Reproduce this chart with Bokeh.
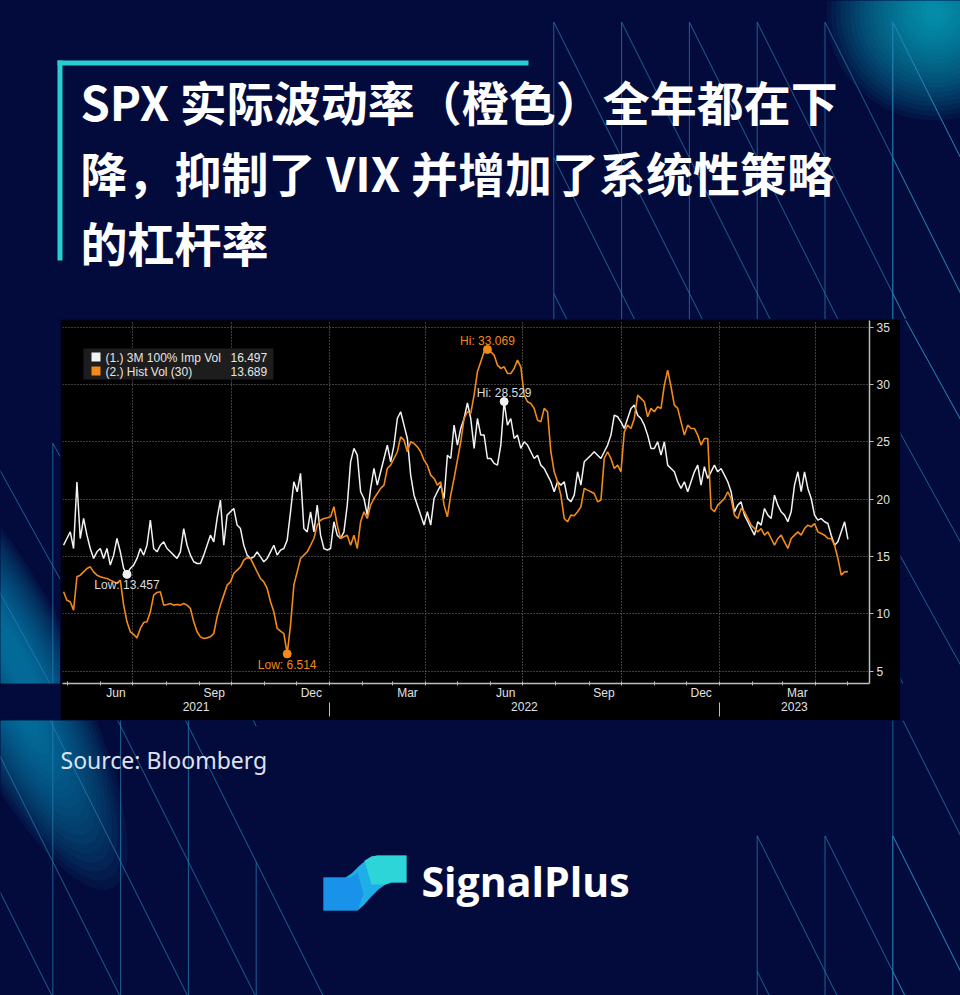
import pandas as pd
from bokeh.plotting import figure
from bokeh.layouts import column, row
from bokeh.models import (Range1d, FixedTicker, DatetimeAxis, DatetimeTickFormatter,
                          Label, BoxAnnotation)
from bokeh.embed import file_html
from bokeh.resources import INLINE
from bokeh.core.properties import value

# ---------------- data ----------------
title_lines = ["SPX 实际波动率（橙色）全年都在下",
               "降，抑制了 VIX 并增加了系统性策略",
               "的杠杆率"]
source_text = "Source: Bloomberg"
brand = "SignalPlus"
series_names = ["(1.) 3M 100% Imp Vol", "(2.) Hist Vol (30)"]

start_date = "2021-04-27"
sample_step = "75h"

imp_vol = [
    16.0, 16.58, 17.16, 15.71, 21.5, 16.58, 18.33, 16.87, 15.71, 14.84,
    15.42, 15.71, 14.84, 15.71, 14.26, 15.13, 16.58, 15.42, 13.97, 13.457,
    13.97, 14.26, 14.84, 15.71, 15.13, 15.99, 18.18, 15.71, 15.42, 15.99,
    16.29, 15.71, 15.42, 15.13, 14.84, 15.42, 17.45, 15.99, 15.13, 14.55,
    14.40, 14.40, 15.13, 15.99, 16.87, 16.29, 18.33, 19.93, 15.99, 18.62,
    18.91, 19.2, 17.75, 17.45, 15.99, 15.13,
    14.84, 14.98, 15.42, 14.98, 14.55, 14.84, 15.42, 15.99, 15.13, 15.57,
    15.71, 16.44, 18.91, 21.53, 20.66, 22.26, 17.45, 17.16, 18.91, 17.16,
    19.49, 16.87, 15.71, 15.57, 15.71, 18.04, 16.87, 16.58, 17.16, 19.49,
    23.27, 24.44, 23.85, 20.66, 20.07, 18.62, 20.95, 22.69, 21.24, 22.4,
    23.56, 24.73, 23.27, 24.73, 27.05, 27.64, 26.47, 25.31, 22.11, 20.36,
    19.49, 18.62, 17.75, 18.91, 17.75, 20.07, 20.66,
    21.24, 20.07, 23.85, 23.56, 26.47, 24.73, 26.18, 27.05, 28.4, 27.05,
    24.44, 27.05, 25.6, 25.6, 23.56, 23.56, 23.13, 22.98, 24.73, 28.529,
    26.47, 27.05, 25.31, 25.6, 24.44, 25.02, 24.73, 24.15, 23.56, 23.85,
    22.98, 22.69, 22.11, 21.53, 20.66, 21.53, 21.24, 21.53, 20.07, 19.78,
    20.36, 22.4, 21.24, 23.27, 23.56, 23.85, 24.15, 23.85, 23.56, 24.15,
    24.73, 25.6, 27.34, 27.2, 26.76, 26.18, 27.05,
    27.93, 28.22, 27.34, 27.05, 26.47, 25.6, 24.44, 24.44, 25.02, 23.85,
    25.02, 22.98, 22.69, 22.4, 21.53, 20.95, 21.53, 20.66, 21.53, 22.4,
    22.98, 21.24, 22.84, 21.82, 22.4, 22.98, 22.4, 22.69, 22.11, 21.53,
    20.66, 18.91, 19.49, 19.78, 18.62, 18.04, 17.45, 16.87, 18.04, 17.75,
    19.2, 18.62, 18.33, 20.36, 19.49, 18.91, 18.62, 18.04, 18.91, 21.24,
    22.4, 20.66, 22.4, 20.95, 20.07, 18.62, 18.18, 18.33, 18.04, 17.89,
    16.87, 15.99, 16.29, 17.16, 18.04, 16.497,
]

hist_vol = [
    11.93, 11.2, 11.06, 10.33, 13.24, 13.38, 13.67, 13.96, 14.11, 13.67,
    13.38, 13.24, 13.15, 13.09, 12.95, 12.8, 12.66, 12.95, 10.77, 9.31,
    8.44, 8.21, 7.91, 8.73, 9.25, 9.31, 10.18, 11.64, 11.87, 11.93,
    10.77, 10.82, 10.91, 10.77, 10.82, 10.77, 10.91, 10.77, 10.47, 9.31,
    8.44, 8.0, 7.86, 7.91, 8.0, 8.29, 9.75, 10.77, 11.64, 12.51,
    12.8, 13.53, 13.82, 14.11, 14.69, 14.9,
    14.84, 14.26, 13.67, 13.09, 12.8, 12.22, 11.06, 10.18, 8.73, 8.5,
    8.29, 6.514, 9.02, 12.51, 13.67, 14.84, 15.13, 15.42, 15.99, 16.58,
    17.75, 18.18, 18.33, 18.39, 18.47, 19.35, 17.75, 16.58, 16.73, 16.87,
    15.99, 16.87, 15.71, 18.04, 18.91, 18.33, 19.49, 20.07, 20.51, 20.95,
    21.24, 22.69, 22.98, 23.56, 24.15, 25.45, 25.16, 24.15, 25.02, 24.87,
    24.58, 24.15, 23.42, 22.98, 22.11, 21.82, 21.24,
    21.53, 19.49, 18.47, 20.36, 21.82, 23.42, 25.02, 27.05, 27.64, 27.49,
    29.09, 31.13, 32.0, 32.87, 33.069, 32.87, 32.58, 31.71, 31.42, 31.56,
    30.98, 30.98, 31.42, 32.14, 31.56, 29.09, 28.51, 28.36, 27.93, 26.91,
    26.76, 27.93, 27.64, 24.15, 22.4, 21.53, 20.36, 18.33, 18.04, 18.62,
    18.56, 18.91, 19.35, 20.95, 20.8, 20.66, 20.51, 19.78, 19.93, 23.56,
    24.15, 23.56, 22.69, 22.98, 22.4, 25.89, 26.47,
    26.18, 27.05, 29.09, 28.8, 28.51, 27.2, 27.93, 27.64, 28.07, 27.93,
    29.96, 31.27, 29.82, 28.22, 27.93, 26.76, 25.6, 26.47, 26.18, 26.18,
    25.6, 24.73, 25.31, 25.31, 19.2, 18.91, 19.49, 19.78, 20.07, 20.66,
    20.07, 18.62, 18.33, 19.2, 18.91, 18.33, 17.75, 17.45, 17.16, 17.45,
    16.87, 17.16, 16.58, 16.0, 16.58, 16.87, 16.29, 15.71, 16.58, 16.87,
    17.16, 16.87, 17.45, 17.75, 17.6, 17.89, 17.16, 17.02, 16.87, 16.58,
    16.58, 16.0, 14.84, 13.38, 13.67, 13.689,
]

y_ticks = [5, 10, 15, 20, 25, 30, 35]
month_label_dates = ["2021-06-15", "2021-09-15", "2021-12-15", "2022-03-15",
                     "2022-06-15", "2022-09-15", "2022-12-15", "2023-03-15"]
view_start = "2021-04-26 00:00"
view_end = "2023-05-21 14:00"
y_min, y_max = 3.93, 35.6

# ---------------- styling ----------------
NAVY = "#030b3d"
WHITE_LINE = "#f2f2f2"
ORANGE = "#f28a1a"
CYAN = "#27cfd3"
LATTICE = "#2a84b8"


def ms(d):
    return pd.Timestamp(d).value // 10**6


dates = pd.date_range(start_date, periods=len(imp_vol), freq=sample_step)


def deco_fig(w, h, xr, yr):
    f = figure(width=w, height=h, x_range=Range1d(*xr), y_range=Range1d(*yr),
               output_backend="svg", toolbar_location=None,
               x_axis_location=None, y_axis_location=None,
               min_border=0, background_fill_color=NAVY, border_fill_color=NAVY)
    f.outline_line_color = None
    f.grid.visible = False
    return f


def lattice(x0, y0, dx, dy, cells):
    xs, ys = [], []
    for i, j in cells:
        xa, ya = x0 + i * dx, y0 + j * dy
        xs.append([xa, xa + dx]); ys.append([ya, ya + dy])
        xs.append([xa, xa]); ys.append([ya, ya + dy])
    return xs, ys


right_cells = [(i, j) for i in range(0, 7) for j in range(0, 3)]
right_cells += [(i, j) for i in (5, 6) for j in range(0, 8)]
right_cells += [(i, j) for i in range(3, 7) for j in (6, 7)]
left_cells = [(-1, j) for j in range(0, 5)] + [(0, j) for j in range(0, 5)]
left_cells += [(i, j) for i in (1, 2) for j in range(1, 5)] + [(3, j) for j in (3, 4)]
RX, RY = lattice(553.3, 21.7, 67.8, 135.6, right_cells)
LX, LY = lattice(52.3, 454.5, 67.8, 135.6, left_cells)


def decorate(f):
    # top-right glow
    for k in range(22):
        r = 108 - k * 4.7
        f.circle(x=[934], y=[12], radius=r, fill_color="#16c3e2", fill_alpha=0.055,
                 line_color=None)
    # left glow band
    for k in range(18):
        f.ellipse(x=[16], y=[695], width=430 - k * 20, height=125 - k * 6,
                  angle=-63.4, angle_units="deg", fill_color="#1199c8",
                  fill_alpha=0.065, line_color=None)
    f.multi_line(RX, RY, line_color=LATTICE, line_alpha=0.7, line_width=1)
    f.multi_line(LX, LY, line_color=LATTICE, line_alpha=0.7, line_width=1)


# ---------------- header ----------------
head = deco_fig(960, 319, (0, 960), (319, 0))
decorate(head)
head.line(x=[57, 528], y=[62.5, 62.5], line_color=CYAN, line_width=5)
head.line(x=[59.5, 59.5], y=[60, 260], line_color=CYAN, line_width=5)
head.text(x=[80, 80, 80], y=[100, 171, 241], text=title_lines,
          text_font=value("Noto Sans CJK SC"), text_font_style="bold",
          text_font_size="47px", text_color="white", text_baseline="middle")

# ---------------- side panels ----------------
left = deco_fig(60, 401, (0, 60), (720, 319))
decorate(left)
right = deco_fig(60, 401, (900, 960), (720, 319))
decorate(right)

# ---------------- chart ----------------
p = figure(width=840, height=401, x_axis_type="datetime", y_axis_location="right",
           x_range=Range1d(pd.Timestamp(view_start), pd.Timestamp(view_end)),
           y_range=Range1d(y_min, y_max),
           output_backend="svg", toolbar_location=None,
           background_fill_color="black", border_fill_color="black",
           min_border_left=2, min_border_right=31, min_border_top=1,
           min_border_bottom=37)
p.outline_line_color = None

quarter_starts = [ms(d) for d in pd.date_range("2021-07-01", "2023-04-01", freq="QS")]
month_starts = [ms(d) for d in pd.date_range("2021-05-01", "2023-05-01", freq="MS")]

p.xgrid.ticker = FixedTicker(ticks=quarter_starts)
p.ygrid.ticker = FixedTicker(ticks=y_ticks)
for g in (p.xgrid, p.ygrid):
    g.grid_line_color = "#7a7a7a"
    g.grid_line_dash = "1 2"
    g.grid_line_width = 1

AX_COL = "#bdbdbd"
LBL_COL = "#e2e2e2"
AX_FONT = "Liberation Sans"

xa = p.xaxis[0]
xa.ticker = FixedTicker(ticks=[ms(d) for d in month_label_dates], minor_ticks=month_starts)
fmt_b = "%b"
xa.formatter = DatetimeTickFormatter(milliseconds=fmt_b, seconds=fmt_b, minsec=fmt_b,
                                     minutes=fmt_b, hourmin=fmt_b, hours=fmt_b,
                                     days=fmt_b, months=fmt_b, years=fmt_b)
xa.major_tick_in = 0
xa.major_tick_out = 0
xa.minor_tick_in = 2
xa.minor_tick_out = 2
xa.minor_tick_line_color = AX_COL
xa.axis_line_color = AX_COL
xa.axis_line_width = 1.5
xa.major_label_standoff = 0
xa.major_label_text_color = LBL_COL
xa.major_label_text_font = AX_FONT
xa.major_label_text_font_size = "12px"

vs, ve = pd.Timestamp(view_start), pd.Timestamp(view_end)
year_mid, year_bounds = [], []
for yr in (2021, 2022, 2023):
    a = max(vs, pd.Timestamp(f"{yr}-01-01"))
    b = min(ve, pd.Timestamp(f"{yr + 1}-01-01"))
    year_mid.append(ms(a + (b - a) / 2))
    if pd.Timestamp(f"{yr}-01-01") > vs:
        year_bounds.append(ms(f"{yr}-01-01"))
fmt_y = "%Y"
year_axis = DatetimeAxis(
    ticker=FixedTicker(ticks=year_mid, minor_ticks=year_bounds),
    formatter=DatetimeTickFormatter(milliseconds=fmt_y, seconds=fmt_y, minsec=fmt_y,
                                    minutes=fmt_y, hourmin=fmt_y, hours=fmt_y,
                                    days=fmt_y, months=fmt_y, years=fmt_y))
year_axis.axis_line_color = None
year_axis.major_tick_in = 0
year_axis.major_tick_out = 0
year_axis.minor_tick_in = 0
year_axis.minor_tick_out = 14
year_axis.minor_tick_line_color = AX_COL
year_axis.minor_tick_line_width = 1
year_axis.major_label_standoff = -15
year_axis.major_label_text_color = LBL_COL
year_axis.major_label_text_font = AX_FONT
year_axis.major_label_text_font_size = "12px"
p.add_layout(year_axis, "below")

ya = p.yaxis[0]
ya.ticker = FixedTicker(ticks=y_ticks, minor_ticks=[])
ya.axis_line_color = AX_COL
ya.axis_line_width = 1.5
ya.major_tick_line_color = AX_COL
ya.major_tick_in = 0
ya.major_tick_out = 4
ya.minor_tick_line_color = None
ya.major_label_standoff = 3
ya.major_label_text_color = LBL_COL
ya.major_label_text_font = AX_FONT
ya.major_label_text_font_size = "12px"

p.line(dates, imp_vol, line_color=WHITE_LINE, line_width=1.5)
p.line(dates, hist_vol, line_color=ORANGE, line_width=1.6)


def idx_min(v):
    return min(range(len(v)), key=lambda i: v[i])


def idx_max(v):
    return max(range(len(v)), key=lambda i: v[i])


marks = [
    (imp_vol, idx_min(imp_vol), "Low", WHITE_LINE, "#dcdcdc", 11),
    (hist_vol, idx_min(hist_vol), "Low", ORANGE, ORANGE, 11),
    (hist_vol, idx_max(hist_vol), "Hi", ORANGE, ORANGE, -9),
    (imp_vol, idx_max(imp_vol), "Hi", WHITE_LINE, "#dcdcdc", -9),
]
for ser, i, kind, mcol, tcol, off in marks:
    p.scatter(x=[dates[i]], y=[ser[i]], size=8, fill_color=mcol, line_color=mcol)
    p.text(x=[dates[i]], y=[ser[i]], text=[f"{kind}: {ser[i]:.3f}"], y_offset=off,
           text_align="center", text_baseline="middle", text_color=tcol,
           text_font=value(AX_FONT), text_font_size="12px")


def sbox(l, r, t, b, col):
    return BoxAnnotation(left=l, right=r, top=t, bottom=b, left_units="screen",
                         right_units="screen", top_units="screen", bottom_units="screen",
                         fill_color=col, fill_alpha=1.0, line_color=None)


p.add_layout(sbox(21, 211, 335, 304, "#1d1d1d"))
p.add_layout(sbox(29, 38, 331, 322, WHITE_LINE))
p.add_layout(sbox(29, 38, 317, 308, ORANGE))
last_vals = [imp_vol[-1], hist_vol[-1]]
for k, (nm, lv) in enumerate(zip(series_names, last_vals)):
    yy = 326 - 14 * k
    p.add_layout(Label(x=43, y=yy, x_units="screen", y_units="screen", text=nm,
                       text_color="#e6e6e6", text_font=AX_FONT, text_font_size="12px",
                       text_baseline="middle"))
    p.add_layout(Label(x=168, y=yy, x_units="screen", y_units="screen", text=f"{lv:.3f}",
                       text_color="#e6e6e6", text_font=AX_FONT, text_font_size="12px",
                       text_baseline="middle"))

# ---------------- footer ----------------
foot = deco_fig(960, 275, (0, 960), (995, 720))
decorate(foot)
foot.text(x=[60], y=[759], text=[source_text], text_font=value("Noto Sans"),
          text_font_size="23px", text_color="#dde2ee", text_baseline="middle")

logo_x = [323, 345, 351, 358, 365, 371, 377, 406, 406, 391, 385, 378, 370, 363, 357, 323]
logo_y = [877, 877, 873, 866, 860, 856, 855, 855, 882, 882, 884, 889, 897, 905, 910, 910]
foot.patch(logo_x, logo_y, fill_color="#1faee8", line_color=None)
foot.patch([377, 406, 406, 391, 385, 371, 364, 371], [855, 855, 882, 882, 884, 884, 860, 856],
           fill_color="#33e2d4", fill_alpha=0.75, line_color=None)
foot.patch([323, 350, 357, 363, 357, 323], [877, 877, 872, 893, 910, 910],
           fill_color="#1786ea", fill_alpha=0.7, line_color=None)
foot.text(x=[421], y=[880], text=[brand], text_font=value("Open Sans"),
          text_font_style="bold", text_font_size="41px", text_color="white",
          text_baseline="middle")

bg = {"background-color": NAVY}
layout = column(head, row(left, p, right, spacing=0, styles=bg), foot,
                spacing=0, styles=bg)
open("out.html", "w").write(file_html(layout, INLINE))
